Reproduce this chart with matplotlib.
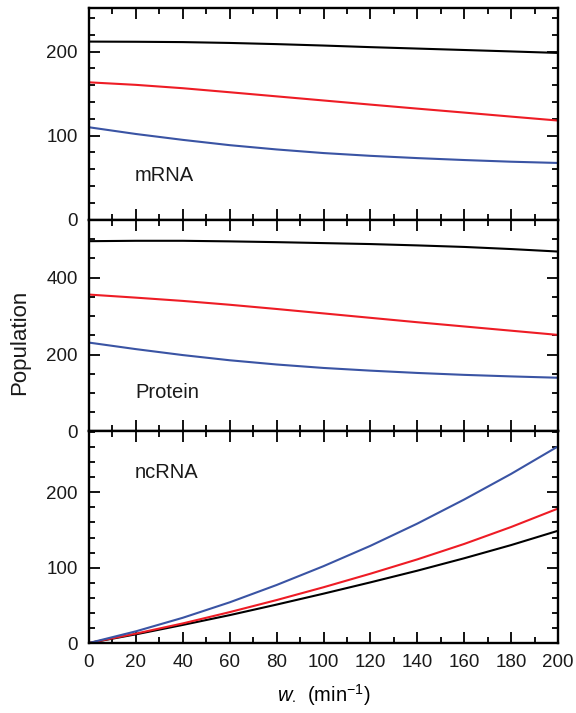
import matplotlib
matplotlib.use("Agg")
import matplotlib.pyplot as plt
from matplotlib.ticker import MultipleLocator

plt.rcParams['font.family'] = ['Liberation Sans', 'DejaVu Sans']
plt.rcParams['mathtext.fontset'] = 'custom'
plt.rcParams['mathtext.rm'] = 'Liberation Sans'
plt.rcParams['mathtext.it'] = 'Liberation Sans:italic'

# rate w (min^-1)
w = [0, 20, 40, 60, 80, 100, 120, 140, 160, 180, 200]

# mRNA populations
mrna_black = [212, 211.8, 211.4, 210.4, 209, 207.3, 205.4, 203.7, 202, 200.3, 198.5]
mrna_red = [163.5, 160.5, 156.5, 151.7, 146.8, 141.9, 137, 132.2, 127.5, 122.7, 118]
mrna_blue = [110, 102, 95, 88.7, 83.6, 79.3, 76, 73.3, 71, 69, 67.5]

# protein populations
prot_black = [495, 496, 496, 494.5, 492.5, 490, 487.5, 484, 480, 474.5, 468]
prot_red = [356, 348, 339.5, 329.5, 318.5, 307, 295.5, 284, 273, 262, 251]
prot_blue = [231, 214, 198.5, 185, 174, 165, 158, 152, 147, 143, 139.5]

# ncRNA populations
nc_black = [0, 11.5, 24, 37, 51, 65.5, 80.5, 96, 112.5, 130, 149]
nc_red = [0, 12.5, 26, 41, 57, 74, 92, 111, 131.5, 154, 178.5]
nc_blue = [0, 15.5, 33.5, 54, 77, 102, 129, 158.5, 190.5, 224.5, 261]

BLACK = '#000000'
RED = '#ee1c25'
BLUE = '#3a54a4'

panels = [
    ("mRNA", (mrna_black, mrna_red, mrna_blue), 252, 100, 20, 0.21),
    ("Protein", (prot_black, prot_red, prot_blue), 551, 200, 50, 0.184),
    ("ncRNA", (nc_black, nc_red, nc_blue), 281, 100, 20, 0.807),
]

fig = plt.figure(figsize=(5.76, 7.13), dpi=100)
left, right = 89 / 576, 558 / 576
top, bottom = 1 - 8 / 713, 1 - 643 / 713
h = (top - bottom) / 3

for i, (name, series, ymax, major, minor, ty) in enumerate(panels):
    ax = fig.add_axes([left, top - (i + 1) * h, right - left, h])
    for ys, c in zip(series, (BLACK, RED, BLUE)):
        ax.plot(w, ys, color=c, lw=1.5, solid_joinstyle='round')
    ax.set_xlim(0, 200)
    ax.set_ylim(0, ymax)
    ax.xaxis.set_major_locator(MultipleLocator(20))
    ax.xaxis.set_minor_locator(MultipleLocator(10))
    ax.yaxis.set_major_locator(MultipleLocator(major))
    ax.yaxis.set_minor_locator(MultipleLocator(minor))
    ax.tick_params(which='both', direction='in', top=True, right=True,
                   width=1.3, colors='black', labelsize=13.5, labelcolor='#1a1a1a')
    ax.tick_params(which='major', length=8)
    ax.tick_params(which='minor', length=4)
    ax.tick_params(axis='y', pad=8)
    ax.tick_params(axis='x', pad=8)
    for s in ax.spines.values():
        s.set_linewidth(1.7)
    if i < 2:
        ax.tick_params(labelbottom=False)
    else:
        ax.set_xlabel(r'$w_{\bullet}$  (min$^{-1}$)', fontsize=14.5, labelpad=8)
    ax.text(0.098, ty, name, transform=ax.transAxes, fontsize=14.5,
            va='center', ha='left', color='#1a1a1a')

fig.text(20 / 576, 1 - 342 / 713, 'Population', rotation=90, fontsize=16,
         va='center', ha='center', color='#1a1a1a')

fig.savefig('out.png', dpi=100)
